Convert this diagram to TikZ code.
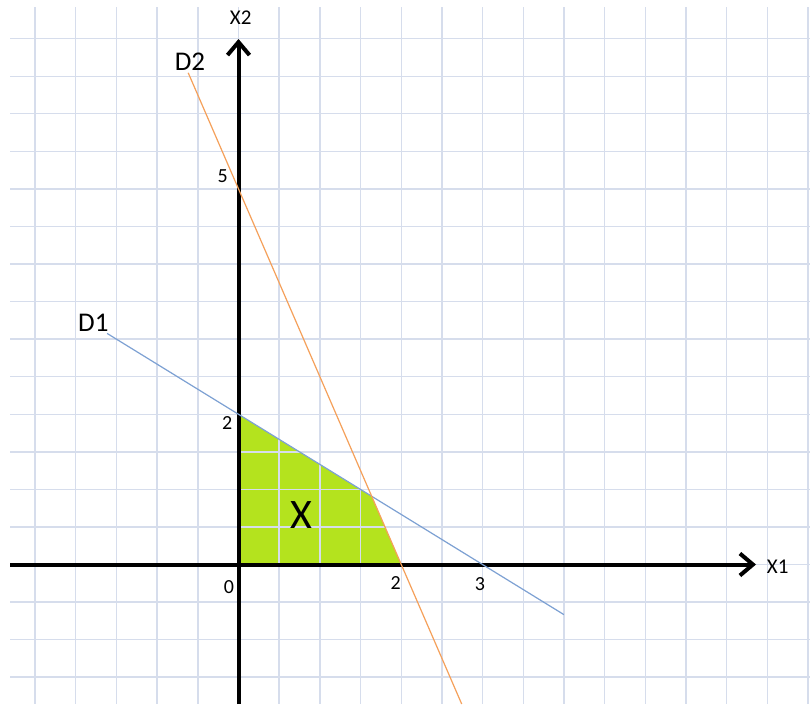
\documentclass[tikz,border=0pt]{standalone}
\usepackage{fontspec}
\setmainfont{Carlito}
\usetikzlibrary{arrows.meta}
\definecolor{gridc}{HTML}{D6DDEC}
\definecolor{fillg}{HTML}{B4E31E}
\definecolor{lineb}{HTML}{7DA1D3}
\definecolor{lineo}{HTML}{F5A05A}
\begin{document}
\begin{tikzpicture}[x=1pt,y=-1pt,
  gridline/.style={draw=gridc,line width=1.4pt},
  axisline/.style={line width=4pt,-{Straight Barb[length=13pt,width=22pt]}},
  dline/.style={line width=1.2pt},
  lbl/.style={inner sep=0pt,text=black},
  small/.style={lbl,font=\fontsize{20}{22}\selectfont},
  axlbl/.style={lbl,font=\fontsize{21}{24}\selectfont},
  dlbl/.style={lbl,font=\fontsize{27}{30}\selectfont},
  biglbl/.style={lbl,font=\fontsize{42}{46}\selectfont}]
\useasboundingbox[fill=white] (0,0) rectangle (810,704);
% key points
\coordinate (O) at (238.5,564.5);
\coordinate (Y2) at (238.5,414.26);
\coordinate (X2) at (401.2,564.5);
\coordinate (P) at (371.6,496.2);
\coordinate (D1a) at (107.1,333.4);
\coordinate (D1b) at (563.9,614.6);
\coordinate (D2a) at (188.2,72.8);
\coordinate (D2b) at (461.7,704);
\coordinate (Xs) at (10,564.5);
\coordinate (Xe) at (756,564.5);
\coordinate (Ys) at (238.5,704);
\coordinate (Ye) at (238.5,39);
% feasible region
\fill[fillg] (O) -- (Y2) -- (P) -- (X2) -- cycle;
% grid
\foreach \k in {-5,...,14}
  \draw[gridline] ({238.5+40.68*\k},7) -- ({238.5+40.68*\k},704);
\foreach \k in {-3,...,14}
  \draw[gridline] (10,{564.5-37.56*\k}) -- (810,{564.5-37.56*\k});
% axes
\draw[axisline] (Xs) -- (Xe);
\draw[axisline] (Ys) -- (Ye);
% lines
\draw[dline,lineb] (D1a) -- (D1b);
\draw[dline,lineo] (D2a) -- (D2b);
% labels
\node[axlbl] (lx2) at (240.7,18) {X2};
\node[axlbl] (lx1) at (777.7,566.7) {X1};
\node[dlbl] (ld2) at (190,61.7) {D2};
\node[dlbl] (ld1) at (93.3,323.3) {D1};
\node[biglbl] (lX) at (301.7,515) {X};
\node[small] (l5) at (222.7,175.7) {5};
\node[small] (ly2) at (227.3,423) {2};
\node[small] (l0) at (229,586.7) {0};
\node[small] (lx2n) at (395.7,582.7) {2};
\node[small] (l3) at (480,584.3) {3};
\end{tikzpicture}
\end{document}
